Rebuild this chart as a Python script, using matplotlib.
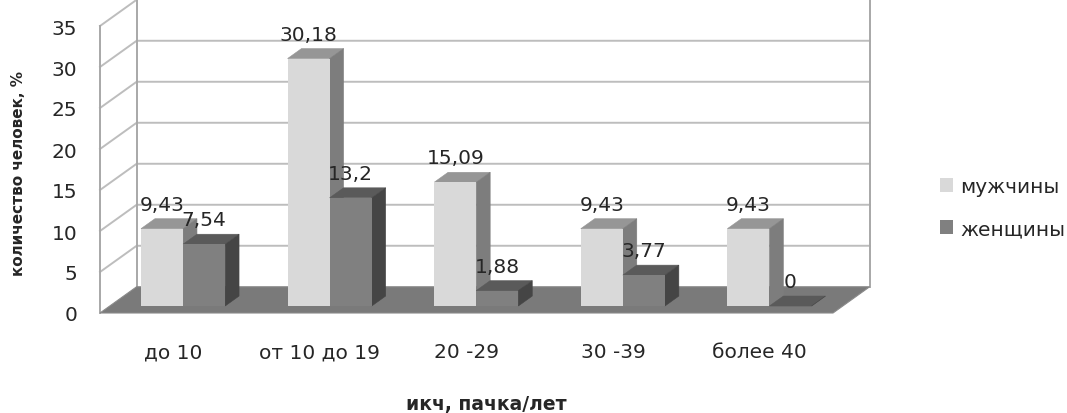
import matplotlib
matplotlib.use("Agg")
import matplotlib.pyplot as plt
from matplotlib.patches import Polygon, Patch

categories = ["до 10", "от 10 до 19", "20 -29", "30 -39", "более 40"]
men = [9.43, 30.18, 15.09, 9.43, 9.43]
women = [7.54, 13.2, 1.88, 3.77, 0]
series_names = ["мужчины", "женщины"]
y_ticks = [0, 5, 10, 15, 20, 25, 30, 35]
x_title = "икч, пачка/лет"
y_title = "количество человек, %"

W, H = 1067, 414
plt.rcParams['font.family'] = ['DejaVu Sans']
fig = plt.figure(figsize=(W / 100, H / 100), dpi=100)
ax = fig.add_axes([100 / W, 100 / H, 733 / W, 287 / H])
ax.set_xlim(-0.5, len(categories) - 0.5)
ax.set_ylim(y_ticks[0], y_ticks[-1])
for s in ax.spines.values():
    s.set_visible(False)

# 3D-look geometry (data units)
DX, DY = 0.25, 3.2      # full floor depth offset
D0 = 0.266              # depth fraction of bar fronts
BD = 0.38               # bar depth fraction
BW = 0.287              # bar width
ymax = y_ticks[-1]
x0, x1 = -0.5, len(categories) - 0.5

grid_c = '#bdbdbd'
edge_c = '#a8a8a8'
text_c = '#262626'

# walls
ax.add_patch(Polygon([(x0, 0), (x0 + DX, DY), (x0 + DX, ymax + DY), (x0, ymax)],
                     closed=True, fc='white', ec='none', zorder=0, clip_on=False))
for v in y_ticks[1:]:
    if v < ymax:
        ax.plot([x0, x0 + DX, x1 + DX], [v, v + DY, v + DY], color=grid_c, lw=1.4,
                zorder=1, clip_on=False, solid_joinstyle='miter')
    else:
        ax.plot([x0, x0 + DX], [v, v + DY], color=grid_c, lw=1.4, zorder=1, clip_on=False)
ax.plot([x0, x0], [0, ymax], color=edge_c, lw=1.4, zorder=1, clip_on=False)
ax.plot([x0 + DX, x0 + DX], [DY, ymax + DY], color=edge_c, lw=1.4, zorder=1, clip_on=False)
ax.plot([x1 + DX, x1 + DX], [DY, ymax + DY], color=edge_c, lw=1.4, zorder=1, clip_on=False)

# floor
ax.add_patch(Polygon([(x0, 0), (x1, 0), (x1 + DX, DY), (x0 + DX, DY)], closed=True,
                     fc='#7a7a7a', ec='#8a8a8a', lw=0.8, zorder=2, clip_on=False))

fx, fy = D0 * DX, D0 * DY
bx, by = BD * DX, BD * DY

styles = [('#d9d9d9', '#969696', '#7d7d7d'), ('#808080', '#5a5a5a', '#454545')]
xs = list(range(len(categories)))
bars_m = ax.bar([x - BW / 2 + fx for x in xs], men, width=BW, bottom=fy, align='edge',
                color=styles[0][0], linewidth=0, clip_on=False)
bars_w = ax.bar([x + BW / 2 + fx for x in xs], women, width=BW, bottom=fy, align='edge',
                color=styles[1][0], linewidth=0, clip_on=False)
bars_m = list(bars_m)
bars_w = list(bars_w)
# fix: align edge means x is left edge; men left = x - BW + fx ... adjust below
for i in xs:
    for k, (p, st) in enumerate(((bars_m[i], styles[0]), (bars_w[i], styles[1]))):
        left = i - BW + fx if k == 0 else i + fx
        p.set_x(left)
        b, w, h = p.get_y(), p.get_width(), p.get_height()
        z = 10 + i * 10 + k * 4
        top = Polygon([(left, b + h), (left + w, b + h), (left + w + bx, b + h + by), (left + bx, b + h + by)],
                      closed=True, fc=st[1], ec=st[1], lw=0.4, zorder=z, clip_on=False)
        side = Polygon([(left + w, b), (left + w + bx, b + by), (left + w + bx, b + h + by), (left + w, b + h)],
                       closed=True, fc=st[2], ec=st[2], lw=0.4, zorder=z + 1, clip_on=False)
        ax.add_patch(top)
        ax.add_patch(side)
        p.set_zorder(z + 2)
        val = men[i] if k == 0 else women[i]
        ax.annotate(f"{val:g}".replace('.', ','), xy=(left + w / 2, b + h), xytext=(0, 17.5),
                    textcoords='offset points', ha='center', va='center', fontsize=14.5,
                    color=text_c, zorder=200, annotation_clip=False)

ax.set_xticks(xs, categories)
ax.set_yticks(y_ticks)
ax.tick_params(axis='x', length=0, labelsize=14.5, colors=text_c, pad=21)
ax.tick_params(axis='y', length=0, labelsize=14.5, colors=text_c, pad=16.5)

ax.set_xlabel(x_title, fontsize=13.5, fontweight='bold', color=text_c, va='center')
ax.xaxis.set_label_coords((486 - 100) / 733, (314 - 405) / 287)
ax.set_ylabel(y_title, fontsize=11, fontweight='bold', color=text_c, va='center')
ax.yaxis.set_label_coords((19 - 100) / 733, (314 - 173.5) / 287)

handles = [Patch(facecolor=styles[0][0], edgecolor='none'), Patch(facecolor=styles[1][0], edgecolor='none')]
fig.legend(handles, series_names, loc='center left', bbox_to_anchor=(940 / W, 1 - 208.5 / H),
           frameon=False, borderpad=0, borderaxespad=0, handlelength=0.65, handleheight=0.65,
           handletextpad=0.35, labelspacing=1.15, fontsize=14.5, labelcolor=text_c)

fig.savefig("out.png", dpi=100)
